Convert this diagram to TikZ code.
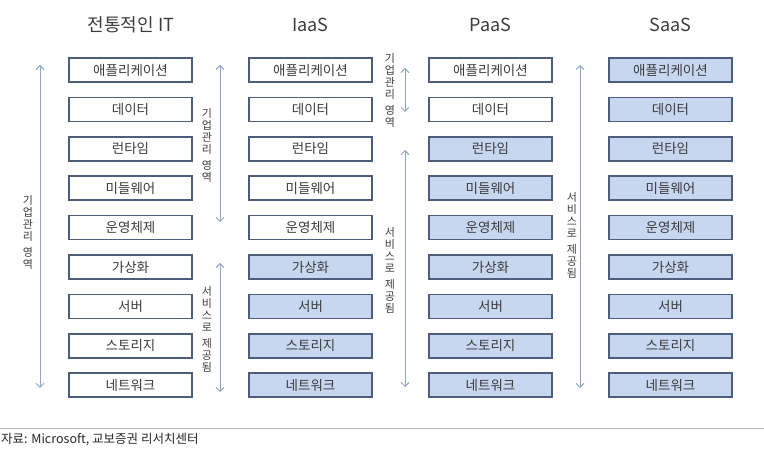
\documentclass[tikz,border=0pt]{standalone}
\usepackage{fontspec}
\setmainfont{Noto Sans CJK KR}
\usetikzlibrary{arrows.meta,positioning}

\definecolor{boxline}{HTML}{4D5E7D}
\definecolor{boxfill}{HTML}{C8D7F0}
\definecolor{spanline}{HTML}{8DA5C6}
\definecolor{txt}{HTML}{3C3C3C}

\tikzset{
  layer/.style={draw=boxline, line width=1.5pt, minimum width=123pt, minimum height=24pt,
    inner sep=0pt, text=txt, font=\fontsize{13.5}{13.5}\selectfont},
  span/.style={draw=spanline, line width=0.9pt,
    {Straight Barb[length=4pt,width=8pt]}-{Straight Barb[length=4pt,width=8pt]}},
  vlabel/.style={text=txt, align=center, inner sep=0pt, font=\fontsize{11}{12}\selectfont},
  title/.style={text=txt, font=\fontsize{18}{18}\selectfont}
}

\begin{document}
\begin{tikzpicture}[x=1pt,y=-1pt]
    \useasboundingbox (0,0) rectangle (764,454);

    % column titles
    \node[title] (tradT) at (131,25) {전통적인 IT};
    \node[title] (iaasT) at (310.5,25) {IaaS};
    \node[title] (paasT) at (490.5,25) {PaaS};
    \node[title] (saasT) at (670.5,25) {SaaS};

    % layer stacks
    \foreach \name [count=\i] in {애플리케이션,데이터,런타임,미들웨어,운영체제,가상화,서버,스토리지,네트워크} {
        \pgfmathsetmacro\y{70+39.4*(\i-1)}
        \pgfmathparse{\i>5 ? "boxfill" : "white"}\let\ifill\pgfmathresult
        \pgfmathparse{\i>2 ? "boxfill" : "white"}\let\pfill\pgfmathresult
        \node[layer] (trad\i) at (130.5,\y) {\name};
        \node[layer, fill=\ifill] (iaas\i) at (310.5,\y) {\name};
        \node[layer, fill=\pfill] (paas\i) at (490.5,\y) {\name};
        \node[layer, fill=boxfill] (saas\i) at (670.5,\y) {\name};
    }

    % span arrows
    \coordinate (ownA) at (40,65);   \coordinate (ownB) at (40,388);
    \coordinate (ownC) at (220,65);  \coordinate (ownD) at (220,222);
    \coordinate (srvA) at (220,263); \coordinate (srvB) at (220,392);
    \coordinate (ownE) at (405,68);  \coordinate (ownF) at (405,112);
    \coordinate (srvC) at (405,150); \coordinate (srvD) at (405,387);
    \coordinate (srvE) at (580,65);  \coordinate (srvF) at (580,388);
    \draw[span] (ownA) -- (ownB);
    \draw[span] (ownC) -- (ownD);
    \draw[span] (srvA) -- (srvB);
    \draw[span] (ownE) -- (ownF);
    \draw[span] (srvC) -- (srvD);
    \draw[span] (srvE) -- (srvF);

    % span labels
    \node[vlabel] (ownL1) at (28,232)  {기\\업\\관\\리\\[4pt]영\\역};
    \node[vlabel] (ownL2) at (207,145) {기\\업\\관\\리\\[4pt]영\\역};
    \node[vlabel] (srvL1) at (207,329) {서\\비\\스\\로\\[4pt]제\\공\\됨};
    \node[vlabel] (ownL3) at (390,90)  {기\\업\\관\\리\\[4pt]영\\역};
    \node[vlabel] (srvL2) at (390,270) {서\\비\\스\\로\\[4pt]제\\공\\됨};
    \node[vlabel] (srvL3) at (572,235) {서\\비\\스\\로\\[4pt]제\\공\\됨};

    % source line
    \coordinate (ruleW) at (0,428);
    \coordinate (ruleE) at (764,428);
    \draw[black!25, line width=0.8pt] (ruleW) -- (ruleE);
    \node[anchor=west, inner sep=0pt, text=black!85, font=\fontsize{12.5}{12.5}\selectfont]
        (source) at (1,440) {자료: Microsoft, 교보증권 리서치센터};
\end{tikzpicture}
\end{document}
